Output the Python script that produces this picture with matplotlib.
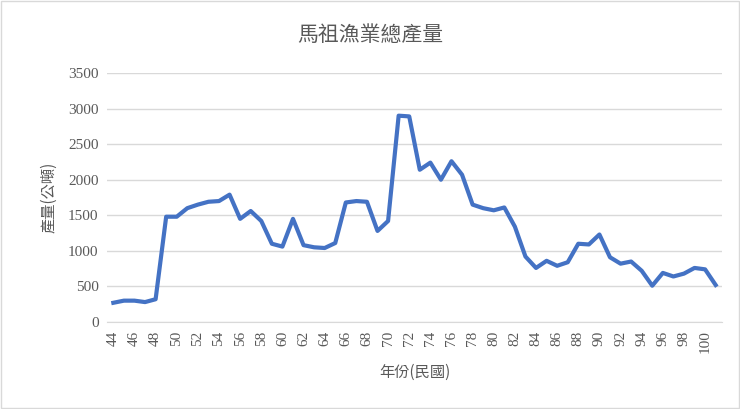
import matplotlib.pyplot as plt

years = list(range(44, 102))
output = [270, 300, 300, 280, 320, 1480, 1480, 1600, 1650, 1690,
          1700, 1790, 1450, 1560, 1420, 1100, 1060, 1450, 1080, 1050,
          1040, 1110, 1680, 1700, 1690, 1280, 1420, 2900, 2890, 2140,
          2240, 2000, 2260, 2070, 1650, 1600, 1570, 1610, 1340, 920,
          760, 860, 790, 840, 1100, 1090, 1230, 910, 820, 850,
          720, 510, 690, 640, 680, 760, 740, 520]

cjk = ['Noto Sans CJK TC', 'DejaVu Sans']
num_font = 'Liberation Serif'

fig = plt.figure(figsize=(7.4, 4.09), dpi=100)
ax = fig.add_axes([107 / 740, 1 - 322 / 409, 615 / 740, 249 / 409])

ax.plot(years, output, color='#4472C4', linewidth=3, solid_joinstyle='round')

ax.set_xlim(43.4, 101.6)
ax.set_ylim(0, 3500)
ax.set_yticks(range(0, 3501, 500))
ax.set_xticks(range(44, 101, 2))
ax.set_xticklabels([str(y) for y in range(44, 101, 2)], rotation=90,
                   family=num_font, fontsize=11, color='#595959')
ax.set_yticklabels([str(v) for v in range(0, 3501, 500)],
                   family=num_font, fontsize=11, color='#595959')
ax.grid(axis='y', color='#d9d9d9', linewidth=1)
ax.set_axisbelow(True)
for s in ['top', 'right', 'left']:
    ax.spines[s].set_visible(False)
ax.spines['bottom'].set_color('#d9d9d9')
ax.tick_params(length=0, pad=6)

ax.set_xlabel('年份(民國)', family=cjk, fontsize=11, color='#595959', labelpad=8)
ax.set_ylabel('產量(公噸)', family=cjk, fontsize=11, color='#595959', labelpad=8)
fig.text(0.5, 1 - 35 / 409, '馬祖漁業總產量', ha='center', va='center',
         family=cjk, fontsize=15, color='#595959')

fig.patches.append(plt.Rectangle((0.002, 0.003), 0.996, 0.994, transform=fig.transFigure,
                                 fill=False, edgecolor='#d9d9d9', linewidth=1))

fig.savefig('out.png', dpi=100)
